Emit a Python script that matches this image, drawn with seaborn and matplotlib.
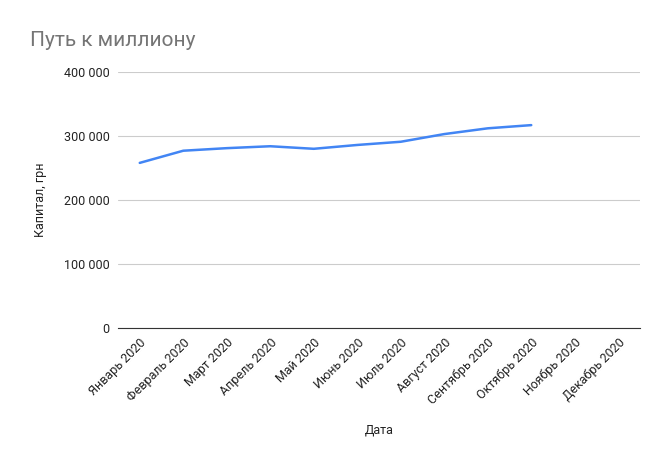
import matplotlib
matplotlib.use("Agg")
import matplotlib.pyplot as plt
import seaborn as sns
import pandas as pd
import numpy as np

months = ["Январь 2020", "Февраль 2020", "Март 2020", "Апрель 2020", "Май 2020",
          "Июнь 2020", "Июль 2020", "Август 2020", "Сентябрь 2020",
          "Октябрь 2020", "Ноябрь 2020", "Декабрь 2020"]
capital = [258000, 277000, 281000, 284000, 280000, 286000, 291000,
           303000, 312000, 317000, np.nan, np.nan]

df = pd.DataFrame({"month": months, "capital": capital, "pos": range(len(months))})

sns.set_style("white")
plt.rcParams["font.family"] = "Roboto"
fig = plt.figure(figsize=(6.72, 4.68), dpi=100)
ax = fig.add_axes([118 / 672, 1 - 328 / 468, 522 / 672, 256 / 468])

sns.lineplot(data=df, x="pos", y="capital", ax=ax, color="#4285f4", linewidth=1.8)

ax.set_xlim(-0.5, 11.5)
ax.set_ylim(0, 400000)
ax.set_yticks([0, 100000, 200000, 300000, 400000])
ax.set_yticklabels(["0", "100 000", "200 000", "300 000", "400 000"],
                   fontsize=9, color="#222222")
ax.set_xticks(range(len(months)))
ax.set_xticklabels(months, rotation=45, ha="right", rotation_mode="anchor",
                   fontsize=9, color="#222222")
ax.tick_params(length=0, pad=6)
ax.grid(axis="y", color="#cccccc", linewidth=0.8)
ax.set_axisbelow(True)
for s in ["top", "right", "left"]:
    ax.spines[s].set_visible(False)
ax.spines["bottom"].set_color("#333333")
ax.set_xlabel("Дата", fontsize=9, color="#222222", labelpad=12)
ax.set_ylabel("Капитал, грн", fontsize=9, color="#222222", labelpad=12)

fig.text(30 / 672, 1 - 40 / 468, "Путь к миллиону", fontsize=15,
         color="#757575", va="center")

fig.savefig("out.png", dpi=100)
